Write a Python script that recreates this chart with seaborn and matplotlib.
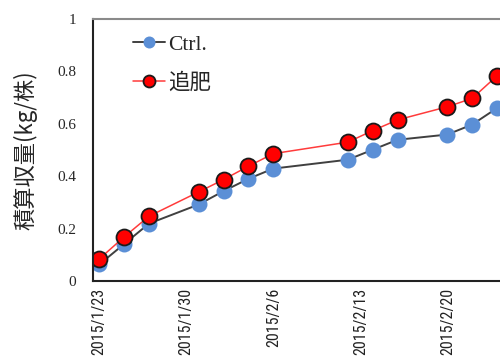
import matplotlib
matplotlib.use("Agg")
import matplotlib.pyplot as plt
import matplotlib.dates as mdates
import matplotlib.ticker as mticker
import numpy as np
import pandas as pd
import seaborn as sns

# measured dates (same for both treatments)
dates = ["2015-01-23", "2015-01-25", "2015-01-27", "2015-01-31", "2015-02-02",
         "2015-02-04", "2015-02-06", "2015-02-12", "2015-02-14", "2015-02-16",
         "2015-02-20", "2015-02-22", "2015-02-24"]
ctrl = [0.063, 0.141, 0.219, 0.292, 0.343, 0.390, 0.429, 0.463, 0.501, 0.539, 0.559, 0.597, 0.660]
tsuihi = [0.084, 0.168, 0.247, 0.340, 0.387, 0.438, 0.486, 0.530, 0.574, 0.615, 0.665, 0.697, 0.783]
week_ticks = ["2015-01-23", "2015-01-30", "2015-02-06", "2015-02-13", "2015-02-20"]
y_ticks = [0, 0.2, 0.4, 0.6, 0.8, 1]

sns.set_style("white")
plt.rcParams['font.family'] = ['Liberation Serif', 'Noto Sans CJK JP', 'DejaVu Sans']

# Excel style date axis: points sit in the middle of each day
x = pd.to_datetime(dates) + pd.Timedelta(hours=12)
df = pd.DataFrame({"date": x, "Ctrl.": ctrl, "追肥": tsuihi})

fig = plt.figure(figsize=(5, 3.56), dpi=100)
ax = fig.add_axes([0.186, 0.2107, 0.814, 0.7359])

sns.lineplot(data=df, x="date", y="Ctrl.", ax=ax, color="#404040", linewidth=1.4,
             marker="o", markersize=11.5, markerfacecolor="#5B8FD6",
             markeredgewidth=0, label="Ctrl.")
sns.lineplot(data=df, x="date", y="追肥", ax=ax, color="#FF3B3B", linewidth=1.1,
             marker="o", markersize=11.5, markerfacecolor="#FF0000",
             markeredgecolor="#1a1a1a", markeredgewidth=1.3, label="追肥")

start = pd.Timestamp(week_ticks[0])
ax.set_xlim(start, start + pd.Timedelta(days=32.74))
ax.set_ylim(0, 1)

wk = pd.to_datetime(week_ticks)
ax.xaxis.set_minor_locator(mticker.FixedLocator(mdates.date2num(wk)))
ax.xaxis.set_major_locator(mticker.FixedLocator(mdates.date2num(wk + pd.Timedelta(hours=12))))
ax.set_xticklabels([f"{d.year}/{d.month}/{d.day}" for d in wk], rotation=90,
                   family=['Roboto Condensed', 'DejaVu Sans'],
                   fontsize=11.5, va='top', ha='center', color='#222222')
ax.tick_params(axis='x', which='major', length=0, pad=5)
ax.tick_params(axis='x', which='minor', length=4, width=1, direction='in', color='#333333')

ax.set_yticks(y_ticks)
ax.yaxis.set_major_formatter(mticker.FormatStrFormatter('%g'))
ax.tick_params(axis='y', length=4, width=1, direction='in', labelsize=11, pad=12,
               color='#333333')
for lab in ax.get_yticklabels():
    lab.set_family('Liberation Serif')

ax.set_xlabel("")
ax.set_ylabel("積算収量(kg/株)", family=['Noto Sans CJK JP', 'DejaVu Sans'],
              fontsize=16, labelpad=14)

for side in ['left', 'bottom']:
    ax.spines[side].set_color('#222222')
    ax.spines[side].set_linewidth(1.5)
ax.spines['top'].set_color('#8a8a8a')
ax.spines['top'].set_linewidth(1.5)
ax.spines['right'].set_visible(False)

ax.legend(loc='upper left', bbox_to_anchor=(0.05, 1.015), frameon=False,
          prop={'family': ['Liberation Serif', 'Noto Sans CJK JP'], 'size': 15.5},
          handlelength=1.5, handletextpad=0.15, labelspacing=0.85, markerscale=0.75)

fig.savefig("out.png", dpi=100)
